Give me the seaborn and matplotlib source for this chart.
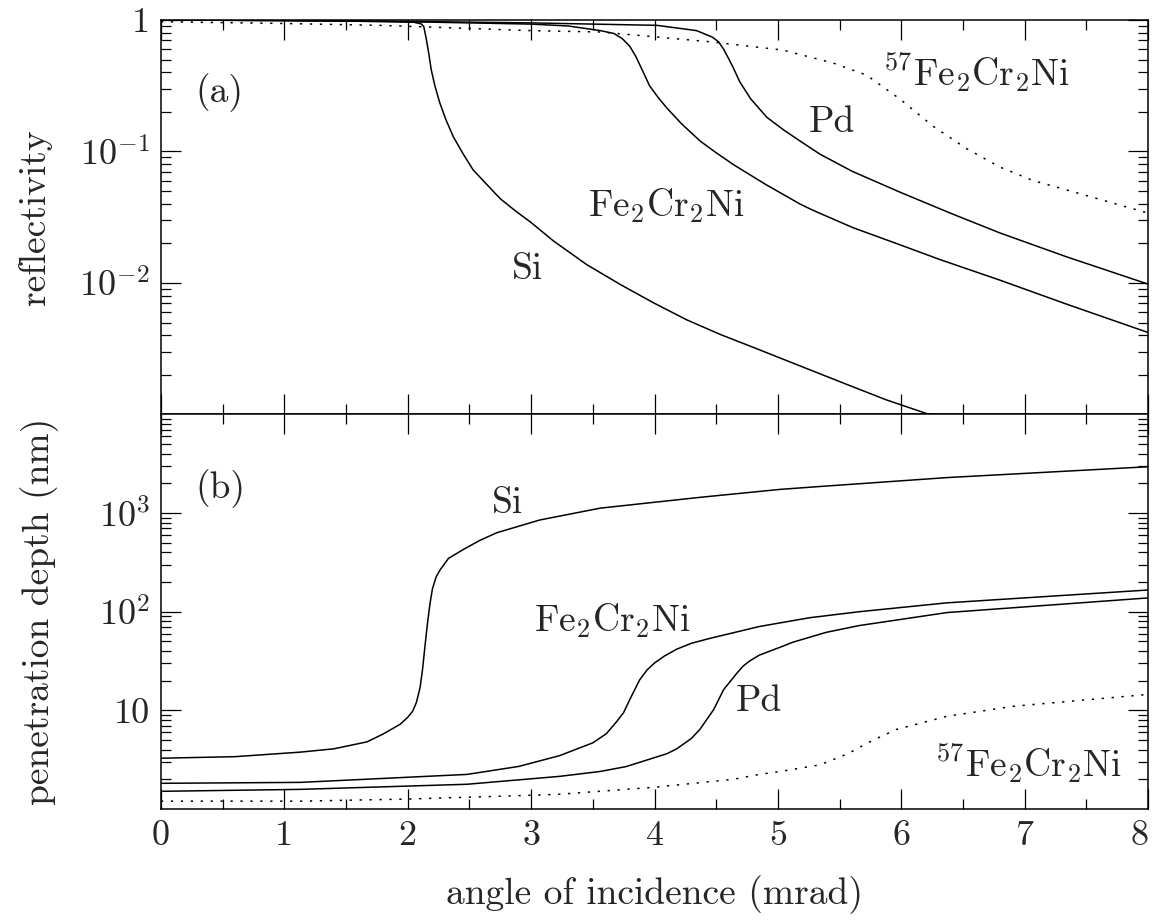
import numpy as np
import seaborn as sns
import matplotlib
matplotlib.use("Agg")
import matplotlib.pyplot as plt
from matplotlib.ticker import LogLocator, NullFormatter, MultipleLocator

# ---- data ----
# (a) reflectivity vs angle (mrad)
si_top_x = [0.0, 1.0, 1.8, 2.05, 2.11, 2.13, 2.15, 2.17, 2.19, 2.22, 2.26, 2.31, 2.37, 2.45, 2.53,
            2.64, 2.75, 2.87, 3.0, 3.18, 3.45, 3.72, 3.99, 4.26, 4.53, 4.80, 5.07, 5.34, 5.61, 5.88, 6.20, 6.25]
si_top_y = [1.0, 0.99, 0.973, 0.96, 0.933, 0.89, 0.72, 0.56, 0.42, 0.316, 0.234, 0.174, 0.129, 0.0955, 0.0724,
            0.0562, 0.0437, 0.0355, 0.0288, 0.0209, 0.0138, 0.00977, 0.00708, 0.00525, 0.00407, 0.00324,
            0.00257, 0.00204, 0.00162, 0.00129, 0.00102, 0.001]

fe_top_x = [0.0, 1.0, 2.0, 3.0, 3.3, 3.56, 3.67, 3.74, 3.80, 3.85, 3.90, 3.96, 4.03, 4.10, 4.22, 4.37,
            4.50, 4.64, 4.90, 5.18, 5.29, 5.61, 5.99, 6.31, 6.80, 7.34, 8.0]
fe_top_y = [1.0, 0.99, 0.97, 0.93, 0.90, 0.83, 0.79, 0.72, 0.63, 0.525, 0.417, 0.316, 0.257, 0.214, 0.162,
            0.120, 0.0977, 0.0794, 0.0562, 0.0398, 0.0355, 0.0263, 0.0195, 0.0151, 0.0105, 0.0069, 0.0042]

pd_top_x = [0.0, 1.0, 2.0, 3.0, 4.02, 4.34, 4.47, 4.52, 4.56, 4.60, 4.64, 4.69, 4.78, 4.91, 5.05, 5.18,
            5.34, 5.60, 5.99, 6.40, 6.80, 7.34, 8.0]
pd_top_y = [1.0, 0.99, 0.975, 0.95, 0.91, 0.83, 0.74, 0.68, 0.60, 0.51, 0.43, 0.34, 0.251, 0.182, 0.145,
            0.120, 0.0955, 0.0708, 0.049, 0.0339, 0.024, 0.0158, 0.0098]

fe57_top_x = [0.0, 1.0, 1.78, 2.99, 3.56, 4.47, 5.04, 5.45, 5.72, 5.99, 6.26, 6.53, 6.80, 7.07, 7.34, 8.0]
fe57_top_y = [0.97, 0.94, 0.91, 0.83, 0.81, 0.68, 0.59, 0.47, 0.38, 0.25, 0.155, 0.105, 0.076, 0.060, 0.051, 0.034]

# (b) penetration depth (nm) vs angle (mrad)
si_bot_x = [0.0, 0.6, 1.13, 1.4, 1.67, 1.8, 1.94, 2.0, 2.04, 2.07, 2.10, 2.12, 2.14, 2.16, 2.18, 2.20,
            2.23, 2.26, 2.33, 2.45, 2.58, 2.72, 3.07, 3.56, 4.37, 5.02, 5.34, 6.37, 8.0]
si_bot_y = [3.27, 3.39, 3.77, 4.07, 4.79, 5.75, 7.24, 8.5, 9.8, 12, 17, 26, 45, 76, 120, 170,
            225, 263, 347, 427, 525, 631, 851, 1122, 1445, 1740, 1860, 2290, 2950]

fe_bot_x = [0.0, 1.13, 2.48, 2.9, 3.23, 3.50, 3.61, 3.69, 3.75, 3.80, 3.88, 3.94, 4.0, 4.08, 4.18, 4.30,
            4.45, 4.85, 5.26, 5.66, 6.37, 8.0]
fe_bot_y = [1.82, 1.86, 2.24, 2.7, 3.47, 4.68, 5.8, 7.6, 9.5, 12.9, 20.4, 25.7, 30.2, 35.5, 41.7, 47.9,
            53.7, 70.8, 87, 100, 123, 166]

pd_bot_x = [0.0, 1.13, 2.48, 3.23, 3.56, 3.77, 4.10, 4.18, 4.30, 4.37, 4.43, 4.48, 4.56, 4.67, 4.72,
            4.77, 4.85, 5.04, 5.12, 5.39, 5.66, 6.37, 8.0]
pd_bot_y = [1.51, 1.58, 1.78, 2.14, 2.4, 2.69, 3.63, 4.07, 5.2, 6.46, 8.3, 10.2, 16.2, 24, 28.2,
            31.6, 36.3, 44.7, 49, 61.7, 72.4, 98, 138]

fe57_bot_x = [0.0, 1.13, 2.0, 3.02, 3.23, 4.0, 4.64, 4.85, 5.02, 5.34, 5.56, 5.76, 5.96, 6.37, 6.91, 8.0]
fe57_bot_y = [1.2, 1.2, 1.26, 1.38, 1.41, 1.66, 2.0, 2.24, 2.4, 2.8, 3.6, 4.9, 6.4, 8.7, 11, 14.5]

x_ticks = [0, 1, 2, 3, 4, 5, 6, 7, 8]
top_ticks = [1e-2, 1e-1, 1]
top_labels = [r"$10^{-2}$", r"$10^{-1}$", "1"]
bot_ticks = [10, 100, 1000]
bot_labels = ["10", r"$10^2$", r"$10^3$"]

# ---- style ----
sns.set_style("ticks")
plt.rcParams.update({
    "font.family": "serif",
    "font.serif": ["cmr10", "DejaVu Serif"],
    "mathtext.fontset": "cm",
    "axes.unicode_minus": False,
    "axes.formatter.use_mathtext": True,
    "font.size": 26,
    "axes.linewidth": 1.1,
    "axes.edgecolor": "black",
})

fig, (ax1, ax2) = plt.subplots(2, 1, figsize=(11.53, 9.24), dpi=100, sharex=True)
fig.subplots_adjust(left=0.1396, right=0.9957, top=0.9784, bottom=0.1245, hspace=0)

lw = 1.1
dot = (0, (1.5, 5))

sns.lineplot(x=si_top_x, y=si_top_y, ax=ax1, color="black", lw=lw)
sns.lineplot(x=fe_top_x, y=fe_top_y, ax=ax1, color="black", lw=lw)
sns.lineplot(x=pd_top_x, y=pd_top_y, ax=ax1, color="black", lw=lw)
sns.lineplot(x=fe57_top_x, y=fe57_top_y, ax=ax1, color="black", lw=lw, linestyle=dot)

sns.lineplot(x=si_bot_x, y=si_bot_y, ax=ax2, color="black", lw=lw)
sns.lineplot(x=fe_bot_x, y=fe_bot_y, ax=ax2, color="black", lw=lw)
sns.lineplot(x=pd_bot_x, y=pd_bot_y, ax=ax2, color="black", lw=lw)
sns.lineplot(x=fe57_bot_x, y=fe57_bot_y, ax=ax2, color="black", lw=lw, linestyle=dot)

for ax in (ax1, ax2):
    ax.set_yscale("log")
    ax.set_xlim(0, 8)
    ax.xaxis.set_major_locator(MultipleLocator(1))
    ax.xaxis.set_minor_locator(MultipleLocator(0.5))
    ax.yaxis.set_minor_locator(LogLocator(base=10, subs=np.arange(2, 10)))
    ax.yaxis.set_minor_formatter(NullFormatter())
    ax.tick_params(which="both", direction="in", top=True, right=True, width=0.9, color="black")
    ax.tick_params(which="major", length=14.5, pad=8)
    ax.tick_params(which="minor", length=7.5)
    ax.tick_params(axis="both", labelsize=26)

ax1.set_ylim(1e-3, 1)
ax1.set_yticks(top_ticks, top_labels)
ax1.tick_params(axis="x", labelbottom=False)

ax2.set_ylim(1, 1e4)
ax2.set_yticks(bot_ticks, bot_labels)
ax2.set_xticks(x_ticks, [str(v) for v in x_ticks])
ax2.get_xticklabels()[-1].set_ha("right")

ax1.set_ylabel("reflectivity", fontsize=27)
ax1.yaxis.set_label_coords(-0.128, 0.5)
ax1.yaxis.label.set_va("center")
ax2.set_ylabel("penetration depth (nm)", fontsize=27)
ax2.yaxis.set_label_coords(-0.123, 0.5)
ax2.yaxis.label.set_va("center")
ax2.set_xlabel("angle of incidence (mrad)", fontsize=27)
ax2.xaxis.set_label_coords(0.5, -0.218)
ax2.xaxis.label.set_va("center")

fs = 27
ax1.text(0.47, 0.28, "(a)", fontsize=fs, ha="center", va="center")
ax1.text(2.97, 0.0126, "Si", fontsize=fs, ha="center", va="center")
ax1.text(4.10, 0.0318, r"$\mathrm{Fe_2Cr_2Ni}$", fontsize=fs, ha="center", va="baseline")
ax1.text(5.44, 0.141, "Pd", fontsize=fs, ha="center", va="baseline")
ax1.text(6.61, 0.32, r"$^{57}\mathrm{Fe_2Cr_2Ni}$", fontsize=fs, ha="center", va="baseline")

ax2.text(0.48, 1780, "(b)", fontsize=fs, ha="center", va="center")
ax2.text(2.81, 1000, "Si", fontsize=fs, ha="center", va="baseline")
ax2.text(3.66, 63, r"$\mathrm{Fe_2Cr_2Ni}$", fontsize=fs, ha="center", va="baseline")
ax2.text(4.85, 9.8, "Pd", fontsize=fs, ha="center", va="baseline")
ax2.text(7.03, 2.15, r"$^{57}\mathrm{Fe_2Cr_2Ni}$", fontsize=fs, ha="center", va="baseline")

fig.savefig("out.png", dpi=100)
